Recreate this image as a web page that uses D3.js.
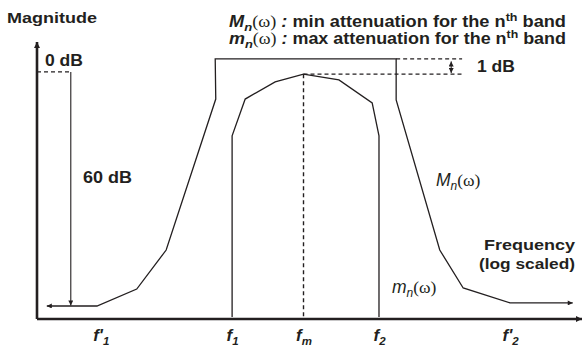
<!DOCTYPE html>
<html>
<head>
<meta charset="utf-8">
<script src="https://cdn.jsdelivr.net/npm/d3@7"></script>
<style>
  body { margin: 0; background: #fff; }
  svg { display: block; font-family: "Liberation Sans", Arial, sans-serif; }
  .lbl { font-weight: bold; fill: #231f20; }
</style>
</head>
<body>
<svg id="chart" width="582" height="346"></svg>
<script>
// Positions on a log-frequency axis (0..100) and a level axis (0..100)
const upperMask = [[1.8, 4.7], [11.0, 4.7], [18.3, 10.8], [23.7, 24.9], [32.8, 79.4], [32.7, 93.9],
                   [65.9, 93.9], [65.9, 79.1], [73.9, 24.9], [78.2, 11.2], [86.8, 5.8], [98.3, 5.8]];
const lowerMask = [[35.8, 0.7], [35.8, 66.1], [38.2, 79.4], [43.7, 85.6], [48.9, 88.4], [55.4, 86.3],
                   [61.5, 78.0], [62.75, 66.1], [62.75, 0.7]];
const tickValues = [11.7, 35.8, 48.9, 62.75, 86.8];
const tickNames = [["f'", "1"], ["f", "1"], ["f", "m"], ["f", "2"], ["f'", "2"]];
const zeroDb = 89.2, floorDb = 4.9, topLevel = 93.9, peakLevel = 88.4;
const refX = 6.2, rippleEnd = 78.0, rippleArrowX = 76.0;

const svg = d3.select('#chart');
const x = d3.scaleLinear().domain([0, 100]).range([37, 582]);
const y = d3.scaleLinear().domain([0, 100]).range([319, 42]);
const ink = '#231f20';

// arrow heads
const defs = svg.append('defs');
function marker(id, w, h) {
    defs.append('marker')
        .attr('id', id)
        .attr('viewBox', '0 0 10 10')
        .attr('refX', 10).attr('refY', 5)
        .attr('markerWidth', w).attr('markerHeight', h)
        .attr('markerUnits', 'userSpaceOnUse')
        .attr('orient', 'auto-start-reverse')
        .append('path')
        .attr('d', 'M0,0L10,5L0,10z')
        .attr('fill', ink);
}
marker('axisHead', 7, 6);
marker('smallHead', 6, 5);

// axes
const xAxis = svg.append('g')
    .attr('transform', `translate(0,${y(0)})`)
    .call(d3.axisBottom(x).tickValues(tickValues).tickSize(0).tickFormat(''));
xAxis.select('.domain')
    .attr('stroke', ink).attr('stroke-width', 2.6)
    .attr('d', `M${x(0)},0H${x(100)}`)
    .attr('marker-end', 'url(#axisHead)');

const yAxis = svg.append('g')
    .attr('transform', `translate(${x(0)},0)`)
    .call(d3.axisLeft(y).tickValues([]).tickSizeOuter(0));
yAxis.select('.domain')
    .attr('stroke', ink).attr('stroke-width', 2.6)
    .attr('d', `M0,${y(0)}V${y(100)}`)
    .attr('marker-end', 'url(#axisHead)');

// tick labels f'1, f1, fm, f2, f'2
xAxis.selectAll('.tick text').remove();
xAxis.selectAll('.tick').each(function(d, i) {
    const t = d3.select(this).append('text')
        .attr('y', 22)
        .attr('text-anchor', 'middle')
        .attr('fill', ink)
        .style('font-size', '17px')
        .style('font-weight', 'bold')
        .style('font-style', 'italic');
    t.append('tspan').text(tickNames[i][0]);
    t.append('tspan').attr('dy', 4).style('font-size', '11.5px').text(tickNames[i][1]);
});

const line = d3.line().x(d => x(d[0])).y(d => y(d[1]));

// masks
svg.append('path')
    .datum(upperMask)
    .attr('d', line)
    .attr('fill', 'none')
    .attr('stroke', ink)
    .attr('stroke-width', 1.3)
    .attr('marker-start', 'url(#smallHead)')
    .attr('marker-end', 'url(#smallHead)');

svg.append('path')
    .datum(lowerMask)
    .attr('d', line)
    .attr('fill', 'none')
    .attr('stroke', ink)
    .attr('stroke-width', 1.3);

// dashed guides
const dashed = [
    [[0, zeroDb], [refX, zeroDb]],
    [[65.9, topLevel], [rippleEnd, topLevel]],
    [[48.9, peakLevel], [rippleEnd, peakLevel]],
    [[48.9, peakLevel], [48.9, 0]]
];
svg.append('g').selectAll('path')
    .data(dashed)
    .join('path')
    .attr('d', line)
    .attr('fill', 'none')
    .attr('stroke', ink)
    .attr('stroke-width', 1.4)
    .attr('stroke-dasharray', '4,3');

// 60 dB arrow
svg.append('path')
    .datum([[refX, zeroDb], [refX, floorDb]])
    .attr('d', line)
    .attr('stroke', ink)
    .attr('stroke-width', 1.1)
    .attr('marker-end', 'url(#smallHead)');

// 1 dB double arrow
svg.append('path')
    .datum([[rippleArrowX, topLevel - 0.9], [rippleArrowX, peakLevel + 0.4]])
    .attr('d', line)
    .attr('stroke', ink)
    .attr('stroke-width', 1)
    .attr('marker-start', 'url(#smallHead)')
    .attr('marker-end', 'url(#smallHead)');

// plain labels
function label(txt, px, py, size, len, anchor) {
    return svg.append('text')
        .attr('class', 'lbl')
        .attr('x', px).attr('y', py)
        .attr('text-anchor', anchor || 'start')
        .attr('textLength', len)
        .attr('lengthAdjust', 'spacingAndGlyphs')
        .style('font-size', size + 'px')
        .text(txt);
}
label('Magnitude', 7, 23, 15, 90);
label('0 dB', 45, 66, 16, 38);
label('60 dB', 83, 183, 16, 49);
label('1 dB', 477, 72, 16, 38);
label('Frequency', 484, 250, 15.5, 91);
label('(log scaled)', 479, 269, 15.5, 96);

// legend lines
[['M', 27, 'min'], ['m', 44, 'max']].forEach(([sym, py, word]) => {
    const t = svg.append('text')
        .attr('class', 'lbl')
        .attr('x', 229).attr('y', py)
        .attr('textLength', 337)
        .attr('lengthAdjust', 'spacingAndGlyphs')
        .style('font-size', '16px');
    t.append('tspan').style('font-style', 'italic').text(sym);
    t.append('tspan').attr('dy', 4).style('font-style', 'italic').style('font-size', '11.5px').text('n');
    t.append('tspan').attr('dy', -4).style('font-family', '"Liberation Serif", serif')
        .style('font-weight', 'normal').text('(ω)');
    t.append('tspan').style('font-style', 'italic').text(' : ');
    t.append('tspan').text(word + ' attenuation for the n');
    t.append('tspan').attr('dy', -6).style('font-size', '11px').text('th');
    t.append('tspan').attr('dy', 6).text(' band');
});

// curve names
[['M', 436, 186], ['m', 392, 293]].forEach(([sym, px, py]) => {
    const t = svg.append('text')
        .attr('x', px).attr('y', py)
        .attr('fill', ink)
        .style('font-size', '17.5px')
        .style('font-style', 'italic');
    t.append('tspan').text(sym);
    t.append('tspan').attr('dy', 4).style('font-size', '12px').text('n');
    t.append('tspan').attr('dy', -4).style('font-family', '"Liberation Serif", serif')
        .style('font-style', 'normal').text('(ω)');
});
</script>
</body>
</html>
